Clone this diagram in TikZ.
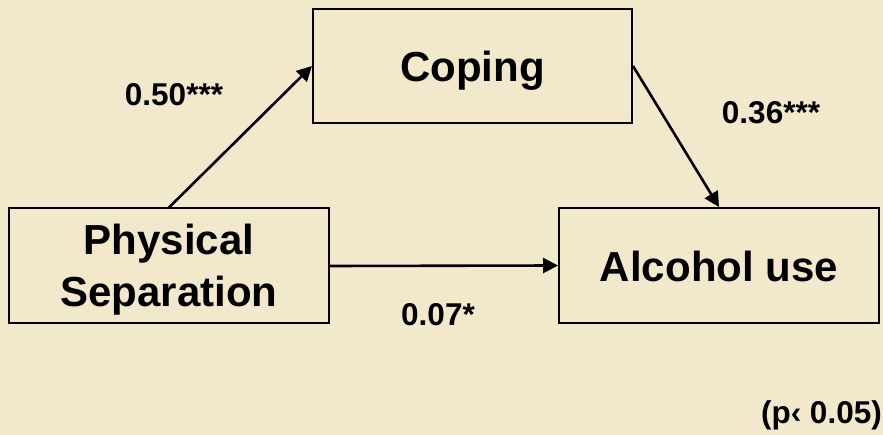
\documentclass[tikz,border=0pt]{standalone}
\usepackage{fontspec}
\setmainfont{Liberation Sans}
\usetikzlibrary{arrows.meta}
\definecolor{bg}{HTML}{F2E8CB}
\begin{document}
\begin{tikzpicture}[x=1pt,y=-1pt,
  box/.style={draw=black,line width=2pt,fill=bg,minimum width=320pt,minimum height=115pt,
    inner sep=0pt,align=center,font=\fontsize{42}{52}\selectfont\bfseries,
    text height=38pt,text depth=6pt},
  coef/.style={font=\fontsize{31.5}{36}\selectfont\bfseries,inner sep=0pt},
  conn/.style={line width=2.6pt,-{Triangle[length=15pt,width=15pt]}}]
\fill[bg] (0,0) rectangle (883,435);
\useasboundingbox (0,0) rectangle (883,435);
\node[box,minimum width=319pt,minimum height=114pt] (coping) at (472.5,66) {Coping};
\node[box,text height=88pt] (phys) at (169,266) {Physical\\Separation};
\node[box] (alc) at (719,265.5) {Alcohol use};
\draw[conn] (phys.north) -- (coping.west);
\draw[conn] (coping.east) -- (alc.north);
\draw[conn] (phys.east) -- (alc.west);
\node[coef,anchor=base] (c1) at (174,106) {0.50***};
\node[coef,anchor=base] (c2) at (771,124) {0.36***};
\node[coef,anchor=base] (c3) at (438,326) {0.07*};
\node[coef,anchor=base east] (pv) at (882,423) {(p‹ 0.05)};
\end{tikzpicture}
\end{document}
